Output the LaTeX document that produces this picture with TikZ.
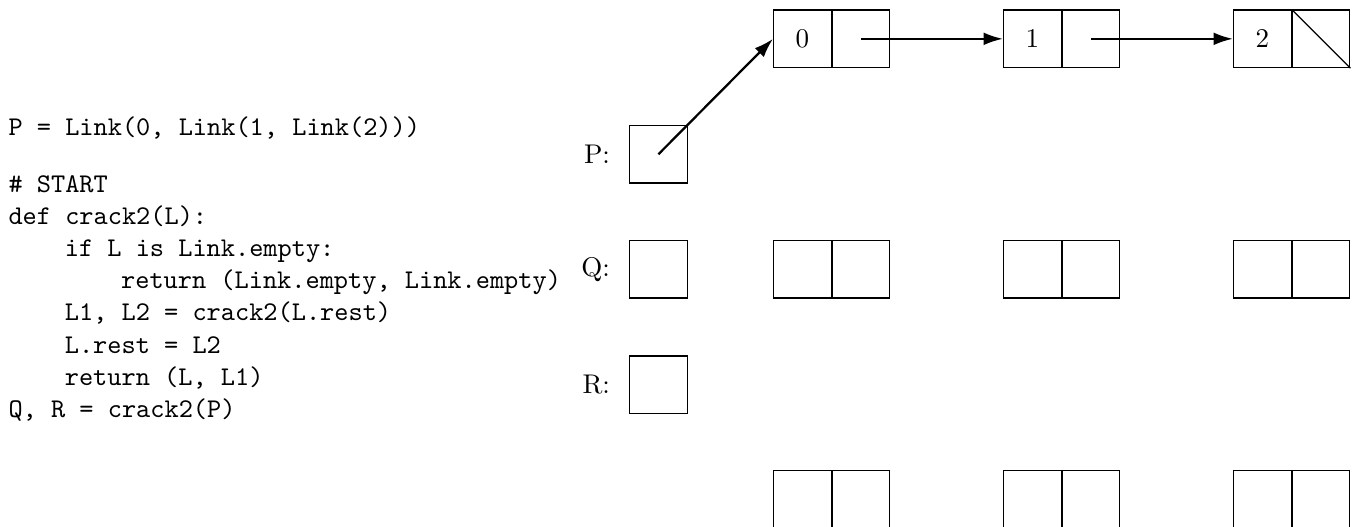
\documentclass[tikz,border=0pt]{standalone}
\usetikzlibrary{arrows.meta,positioning}
\tikzset{
  cell/.style={draw, line width=0.45pt, minimum width=21.7pt, minimum height=21.7pt, inner sep=0pt, font=\fontsize{10.2}{12}\selectfont},
  lbl/.style={inner sep=0pt, font=\fontsize{10.2}{12}\selectfont},
  code/.style={anchor=base west, inner sep=0pt, font=\fontsize{10.2}{12}\selectfont\ttfamily},
  ptr/.style={line width=0.85pt, -{Latex[length=7.3pt,width=4.8pt]}}
}
\begin{document}
\begin{tikzpicture}[x=0.3774pt, y=-0.3774pt]
\clip (0,0) rectangle (1361,527);
% code
\node[code] (c1) at (8,136) {P = Link(0, Link(1, Link(2)))};
\node[code] (c2) at (8,193) {\# START};
\node[code] (c3) at (8,225) {def crack2(L):};
\node[code] (c4) at (64.3,257) {if L is Link.empty:};
\node[code] (c5) at (120.6,289) {return (Link.empty, Link.empty)};
\node[code] (c6) at (64.3,321) {L1, L2 = crack2(L.rest)};
\node[code] (c7) at (64.3,354) {L.rest = L2};
\node[code] (c8) at (64.3,386) {return (L, L1)};
\node[code] (c9) at (8,418) {Q, R = crack2(P)};
% variable boxes
\node[cell, anchor=north west] (P) at (629,125) {};
\node[cell, anchor=north west] (Q) at (629,240) {};
\node[cell, anchor=north west] (R) at (629,355.5) {};
\node[lbl, left=7pt of P] (Pl) {P:};
\node[lbl, left=7pt of Q] (Ql) {Q:};
\node[lbl, left=7pt of R] (Rl) {R:};
% top list
\node[cell, anchor=north west] (n0v) at (773,9.5) {0};
\node[cell, anchor=west] (n0p) at (n0v.east) {};
\node[cell, anchor=north west] (n1v) at (1003,9.5) {1};
\node[cell, anchor=west] (n1p) at (n1v.east) {};
\node[cell, anchor=north west] (n2v) at (1233,9.5) {2};
\node[cell, anchor=west] (n2p) at (n2v.east) {};
\draw[line width=0.45pt] (n2p.north west) -- (n2p.south east);
% middle row
\node[cell, anchor=north west] (m0v) at (773,240) {};
\node[cell, anchor=west] (m0p) at (m0v.east) {};
\node[cell, anchor=north west] (m1v) at (1003,240) {};
\node[cell, anchor=west] (m1p) at (m1v.east) {};
\node[cell, anchor=north west] (m2v) at (1233,240) {};
\node[cell, anchor=west] (m2p) at (m2v.east) {};
% bottom row
\node[cell, anchor=north west] (b0v) at (773,470) {};
\node[cell, anchor=west] (b0p) at (b0v.east) {};
\node[cell, anchor=north west] (b1v) at (1003,470) {};
\node[cell, anchor=west] (b1p) at (b1v.east) {};
\node[cell, anchor=north west] (b2v) at (1233,470) {};
\node[cell, anchor=west] (b2p) at (b2v.east) {};
% pointers
\draw[ptr] (P.center) -- (n0v.west);
\draw[ptr] (n0p.center) -- (n1v.west);
\draw[ptr] (n1p.center) -- (n2v.west);
\end{tikzpicture}
\end{document}
